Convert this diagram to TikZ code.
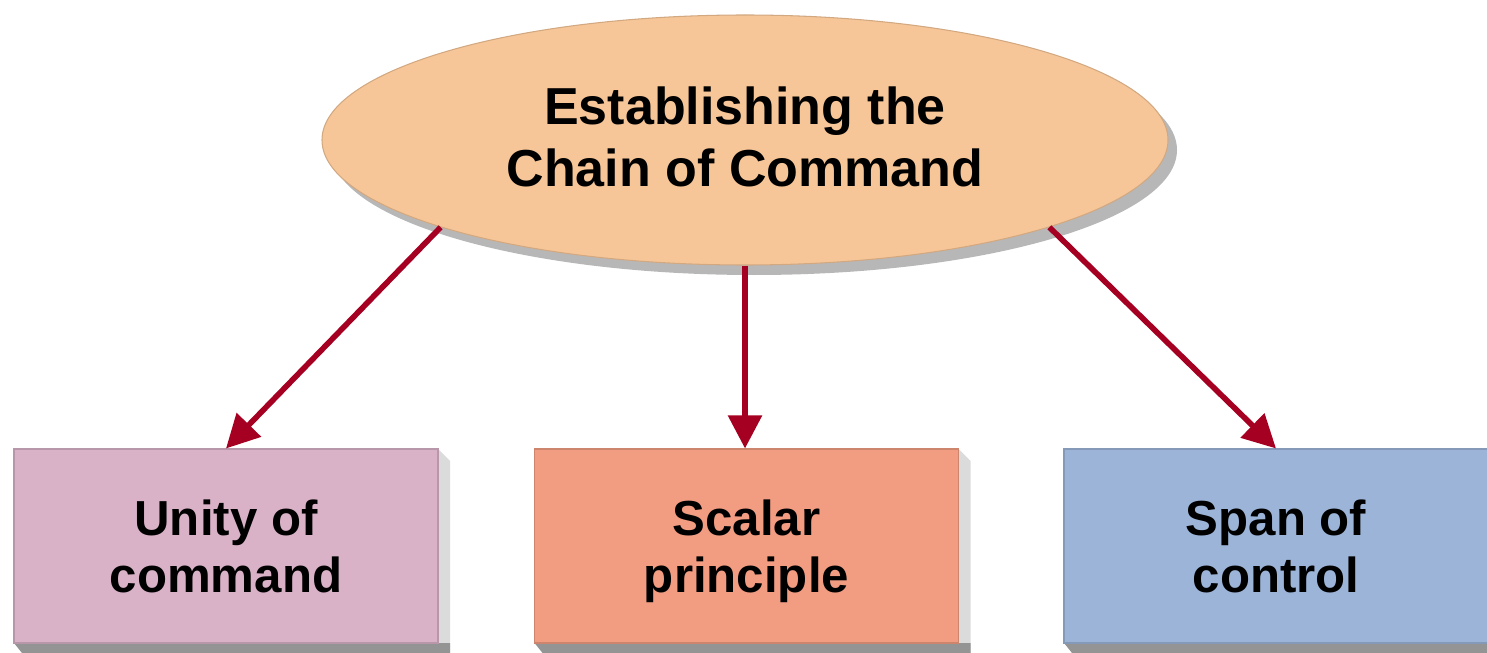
\documentclass[tikz,border=0pt]{standalone}
\usepackage{fontspec}
\setmainfont{Liberation Sans}
\usetikzlibrary{arrows.meta,shapes.geometric,shadows}
\definecolor{peach}{HTML}{F7C698}
\definecolor{unitypink}{HTML}{DAB2C8}
\definecolor{scalarsalmon}{HTML}{F29C82}
\definecolor{spanblue}{HTML}{9CB4D8}
\definecolor{arrowred}{HTML}{A50021}

\begin{document}
\begin{tikzpicture}[
    topic/.style={ellipse, fill=peach, draw=peach!85!black, line width=0.3pt,
      minimum width=8.46cm, minimum height=2.5cm, align=center,
      font=\fontsize{14.8}{17.9}\selectfont\bfseries,
      drop shadow={shadow xshift=0.9mm, shadow yshift=-1mm, fill=black!40, opacity=0.7}},
    subtopic/.style={rectangle, draw=#1!85!black, line width=0.3pt, fill=#1,
      minimum width=4.24cm, minimum height=1.94cm, align=center,
      font=\fontsize{14}{16.2}\selectfont\bfseries},
    link/.style={-{Triangle[length=3.3mm,width=3.3mm]}, line width=1.6pt, arrowred}]
    \useasboundingbox (0,0) rectangle (14.87,6.52);
    % Nodes
    \node[topic] (chain) at (7.45,5.12) {\rule{0pt}{14.2pt}Establishing the\\Chain of Command\strut};
    \foreach \name/\x/\col/\txt in {unity/2.26/unitypink/{Unity of\\command},
        scalar/7.465/scalarsalmon/{Scalar\\principle},
        span/12.76/spanblue/{Span of\\control}} {
      % Extruded edges
      \fill[black!14] (\x+2.12,2.03) -- ++(0.12,-0.12) -- ++(0,-1.94) -- ++(-0.12,0) -- cycle;
      \fill[black!42] (\x-2.12,0.09) -- ++(0.08,-0.1) -- ++(4.28,0) -- ++(0,0.1) -- cycle;
      \node[subtopic=\col] (\name) at (\x,1.06) {\rule{0pt}{15.3pt}\txt\strut};
    }
    % Arrows
    \draw[link] (chain.196) -- (unity.north);
    \draw[link] (chain.south) -- (chain.south |- scalar.north);
    \draw[link] (chain.-16) -- (span.north);
\end{tikzpicture}
\end{document}
